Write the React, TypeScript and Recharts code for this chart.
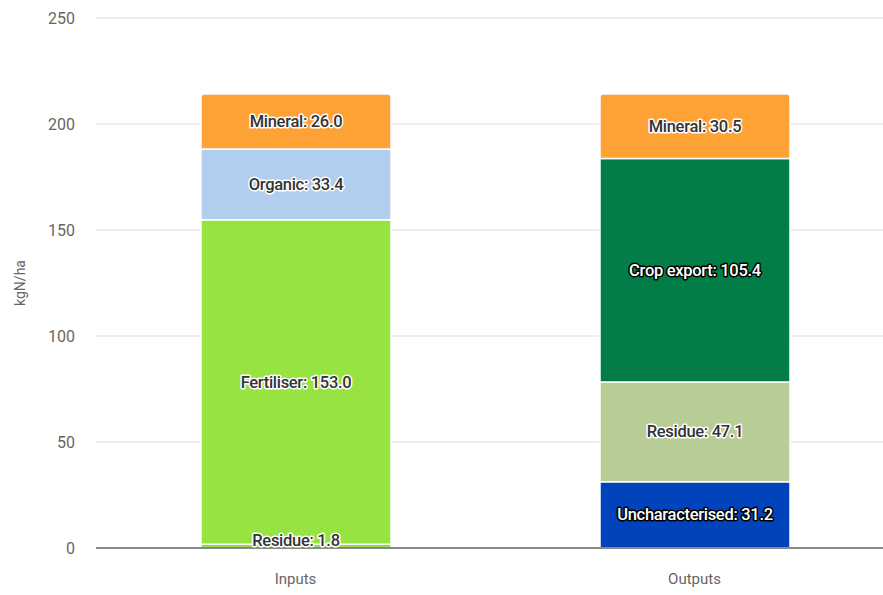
import React from 'react';
import { BarChart, Bar, XAxis, YAxis, CartesianGrid, LabelList, ReferenceLine } from 'recharts';

const categories = ['Inputs', 'Outputs'];
const yTicks = [0, 50, 100, 150, 200, 250];

// stacked from bottom to top, one array per category
const inputNames = ['Residue', 'Fertiliser', 'Organic', 'Mineral'];
const inputValues = [1.8, 153.0, 33.4, 26.0];
const inputColors = ['#8FDD40', '#96E342', '#B2CEEE', '#FFA235'];

const outputNames = ['Uncharacterised', 'Residue', 'Crop export', 'Mineral'];
const outputValues = [31.2, 47.1, 105.4, 30.5];
const outputColors = ['#0043BA', '#B8CC96', '#027D48', '#FFA235'];

const series = [
  ...inputNames.map((name, i) => ({ key: `in${i}`, name, cat: 0, value: inputValues[i], color: inputColors[i], dark: false })),
  ...outputNames.map((name, i) => ({ key: `out${i}`, name, cat: 1, value: outputValues[i], color: outputColors[i], dark: i === 0 || i === 2 })),
];

const data = categories.map((c, ci) => {
  const row: Record<string, any> = { name: c };
  series.forEach((s) => {
    row[s.key] = s.cat === ci ? s.value : null;
  });
  return row;
});

const FONT = 'Roboto, "Noto Sans", sans-serif';

function makeLabel(name: string, dark: boolean) {
  return (props: any) => {
    const { x, y, width, height, value } = props;
    if (value == null) return null;
    const cx = x + width / 2;
    let cy = y + height / 2;
    if (height < 12) cy = y + height - 8;
    return (
      <text
        x={cx}
        y={cy}
        textAnchor="middle"
        dominantBaseline="central"
        fontFamily={FONT}
        fontSize={16.5}
        fontWeight={500}
        letterSpacing={-0.3}
        fill={dark ? '#ffffff' : '#333333'}
        stroke={dark ? '#000000' : '#ffffff'}
        strokeWidth={3}
        strokeLinejoin="round"
        style={{ paintOrder: 'stroke' }}
      >
        {`${name}: ${Number(value).toFixed(1)}`}
      </text>
    );
  };
}

export default function App() {
  return (
    <div style={{ position: 'absolute', top: 0, left: 0, width: 883, height: 595, overflow: 'hidden', background: '#fff' }}>
      <BarChart
        width={900}
        height={595}
        data={data}
        margin={{ top: 18, right: 6, bottom: 0, left: 0 }}
        barSize={190}
      >
        <CartesianGrid horizontal vertical={false} stroke="#e8e8e8" strokeWidth={1.5} />
        <XAxis
          dataKey="name"
          axisLine={false}
          tickLine={false}
          height={47}
          tickMargin={19}
          tick={{ fill: '#666', fontSize: 15, fontFamily: FONT }}
        />
        <YAxis
          width={96}
          domain={[0, 250]}
          ticks={yTicks}
          axisLine={false}
          tickLine={false}
          tickMargin={15}
          tick={{ fill: '#666', fontSize: 16, fontFamily: FONT }}
          label={{
            value: 'kgN/ha',
            angle: -90,
            position: 'insideLeft',
            offset: 20,
            style: { fill: '#666', fontSize: 14, fontFamily: FONT, textAnchor: 'middle' },
          }}
        />
        {series.map((s) => {
          const isTop = s.key === 'in3' || s.key === 'out3';
          return (
            <Bar
              key={s.key}
              dataKey={s.key}
              stackId="a"
              fill={s.color}
              stroke="#ffffff"
              strokeWidth={1.5}
              radius={isTop ? [3, 3, 0, 0] : 0}
              isAnimationActive={false}
            >
              <LabelList dataKey={s.key} content={makeLabel(s.name, s.dark)} />
            </Bar>
          );
        })}
        <ReferenceLine y={0} stroke="#888" strokeWidth={2} />
      </BarChart>
    </div>
  );
}
